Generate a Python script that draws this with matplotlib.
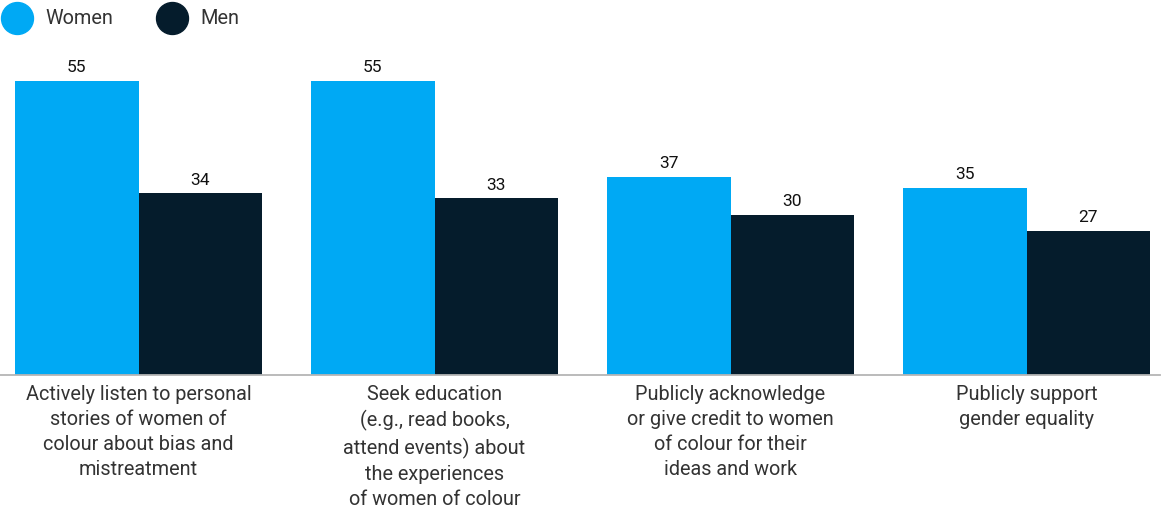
import matplotlib
matplotlib.use("Agg")
import matplotlib.pyplot as plt
import numpy as np
from matplotlib.lines import Line2D

categories = [
    "Actively listen to personal\nstories of women of\ncolour about bias and\nmistreatment",
    "Seek education\n(e.g., read books,\nattend events) about\nthe experiences\nof women of colour",
    "Publicly acknowledge\nor give credit to women\nof colour for their\nideas and work",
    "Publicly support\ngender equality",
]
women = [55, 55, 37, 35]
men = [34, 33, 30, 27]
series_names = ["Women", "Men"]

C_WOMEN = "#00A9F4"
C_MEN = "#051C2C"

plt.rcParams['font.family'] = ['Roboto', 'DejaVu Sans']

W, H = 1163, 508
fig = plt.figure(figsize=(W / 100, H / 100), dpi=100)
ax = fig.add_axes([0, 133 / H, 1160 / W, 321 / H])

x = np.arange(len(categories))
w = 123.5 / 296
b1 = ax.bar(x - w / 2, women, w, color=C_WOMEN)
b2 = ax.bar(x + w / 2, men, w, color=C_MEN)

for bars, vals in ((b1, women), (b2, men)):
    for r, v in zip(bars, vals):
        ax.annotate(str(v), (r.get_x() + r.get_width() / 2, v), xytext=(0, 4),
                    textcoords="offset points", ha="center", va="bottom",
                    fontsize=12.5, color="#111111")

ax.set_xlim(-138.5 / 296, (1160 - 138.5) / 296)
ax.set_ylim(0, 60)
for s in ("top", "right", "left"):
    ax.spines[s].set_visible(False)
ax.spines["bottom"].set_color("#b5b5b5")
ax.spines["bottom"].set_linewidth(1.3)
ax.set_yticks([])
ax.set_xticks(x)
ax.set_xticklabels(categories, fontsize=14.3, color="#333333", linespacing=1.4)
ax.tick_params(axis="x", length=0, pad=7)

# legend: circle markers + labels along the top edge
for (cx, tx), name, col in zip(((17, 45), (172, 200)), series_names, (C_WOMEN, C_MEN)):
    fig.add_artist(Line2D([cx / W], [1 - 18 / H], transform=fig.transFigure,
                          marker="o", ls="", markersize=23, color=col))
    fig.text(tx / W, 1 - 18 / H, name, ha="left", va="center",
             fontsize=14.3, color="#333333")

fig.savefig("out.png", dpi=100)
